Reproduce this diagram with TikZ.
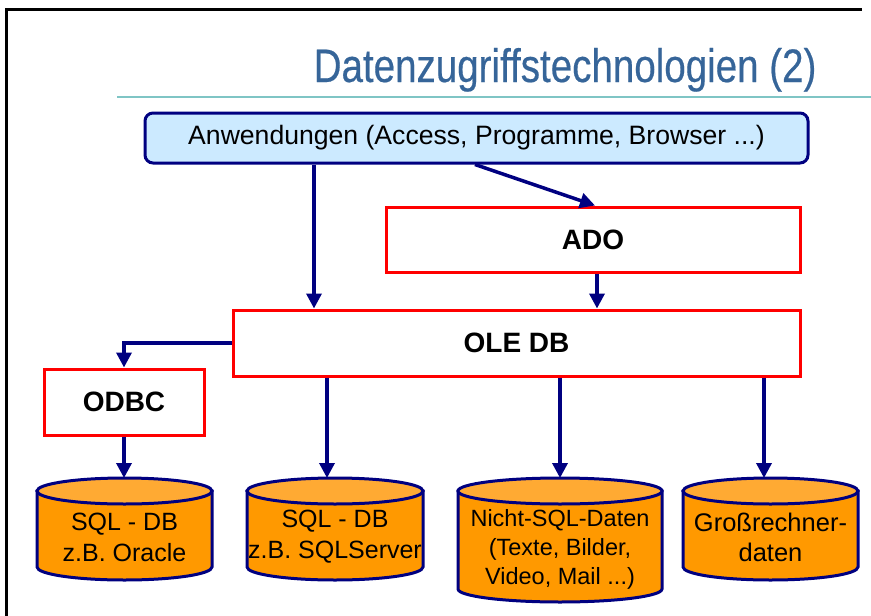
\documentclass[tikz,border=0pt]{standalone}
\usepackage{fontspec}
\setmainfont{Liberation Sans}
\newfontfamily\titlefont{Liberation Sans}[FakeStretch=0.82, FakeBold=0.4]
\usetikzlibrary{arrows.meta}

\definecolor{titleblue}{RGB}{54,101,153}
\definecolor{ruleteal}{RGB}{127,197,197}
\definecolor{appfill}{RGB}{204,234,255}
\definecolor{flownavy}{RGB}{0,0,128}
\definecolor{boxred}{RGB}{255,0,0}
\definecolor{dborange}{RGB}{255,153,0}
\definecolor{dblight}{RGB}{255,170,51}

\begin{document}
\begin{tikzpicture}[x=1pt, y=-1pt,
    appbox/.style={draw=flownavy, line width=3pt, fill=appfill, rounded corners=8pt,
        minimum width=663pt, minimum height=50pt, font=\fontsize{26.6}{30}\selectfont},
    layerbox/.style={draw=boxred, line width=3pt, fill=white,
        minimum height=65pt, font=\bfseries\fontsize{28}{32}\selectfont},
    flow/.style={draw=flownavy, line width=3.5pt, -{Triangle[length=15pt,width=15pt]}},
    dbbody/.style={fill=dborange, draw=flownavy, line width=3pt},
    dbtop/.style={fill=dblight, draw=flownavy, line width=3pt},
    dbtext/.style={align=center, inner sep=0pt}]

    \useasboundingbox (0,0) rectangle (871,616);

    % frame and title
    \draw[line width=3pt] (6,616) -- (6,9) -- (862,9);
    \node[anchor=base east, text=titleblue, font=\titlefont\fontsize{47}{50}\selectfont]
        (title) at (820,82) {Datenzugriffstechnologien (2)};
    \draw[ruleteal, line width=2pt] (117,97) -- (871,97);

    % boxes
    \node[appbox] (app) at (476.5,138) {Anwendungen (Access, Programme, Browser ...)};
    \node[layerbox, minimum width=414pt] (ado) at (593,239.5) {ADO};
    \node[layerbox, minimum width=567pt, minimum height=66pt] (ole) at (516.5,343) {OLE DB};
    \node[layerbox, minimum width=160pt, minimum height=66pt] (odbc) at (124,402) {ODBC};

    % SQL - DB (Oracle)
    \draw[dbbody] (37,491) -- (37,567) arc[start angle=180, end angle=360, x radius=87.5pt, y radius=13pt] -- (212,491) -- cycle;
    \draw[dbtop] (124.5,491) ellipse[x radius=87.5pt, y radius=13pt];
    \coordinate (oracletop) at (124,478);
    \node[dbtext, font=\fontsize{25}{31}\selectfont] (oracle) at (124.5,537) {SQL - DB\\z.B. Oracle};

    % SQL - DB (SQLServer)
    \draw[dbbody] (247,491) -- (247,567) arc[start angle=180, end angle=360, x radius=88pt, y radius=13pt] -- (423,491) -- cycle;
    \draw[dbtop] (335,491) ellipse[x radius=88pt, y radius=13pt];
    \coordinate (sqlservertop) at (327,478);
    \node[dbtext, font=\fontsize{25}{31}\selectfont] (sqlserver) at (335,537) {SQL - DB\\z.B. SQLServer};

    % Nicht-SQL-Daten
    \draw[dbbody] (458,491) -- (458,589) arc[start angle=180, end angle=360, x radius=102pt, y radius=13pt] -- (662,491) -- cycle;
    \draw[dbtop] (560,491) ellipse[x radius=102pt, y radius=13pt];
    \coordinate (nosqltop) at (560,478);
    \node[dbtext, font=\fontsize{23.5}{29}\selectfont] (nosql) at (560,549) {Nicht-SQL-Daten\\(Texte, Bilder,\\Video, Mail ...)};

    % Grossrechnerdaten
    \draw[dbbody] (683,491) -- (683,567) arc[start angle=180, end angle=360, x radius=87.5pt, y radius=13pt] -- (858,491) -- cycle;
    \draw[dbtop] (770.5,491) ellipse[x radius=87.5pt, y radius=13pt];
    \coordinate (hosttop) at (764,478);
    \node[dbtext, font=\fontsize{25.5}{30}\selectfont] (host) at (770.5,537) {Großrechner-\\daten};

    % connectors
    \draw[flow] (app.south -| 314,0) -- (ole.north -| 314,0);
    \draw[flow] (app.south -| 475,0) -- (ado.north -| 595,0);
    \draw[flow] (ado.south -| 597,0) -- (ole.north -| 597,0);
    \draw[flow] (ole.west) -| (odbc.north);
    \draw[flow] (odbc.south) -- (oracletop);
    \draw[flow] (ole.south -| sqlservertop) -- (sqlservertop);
    \draw[flow] (ole.south -| nosqltop) -- (nosqltop);
    \draw[flow] (ole.south -| hosttop) -- (hosttop);

\end{tikzpicture}
\end{document}
